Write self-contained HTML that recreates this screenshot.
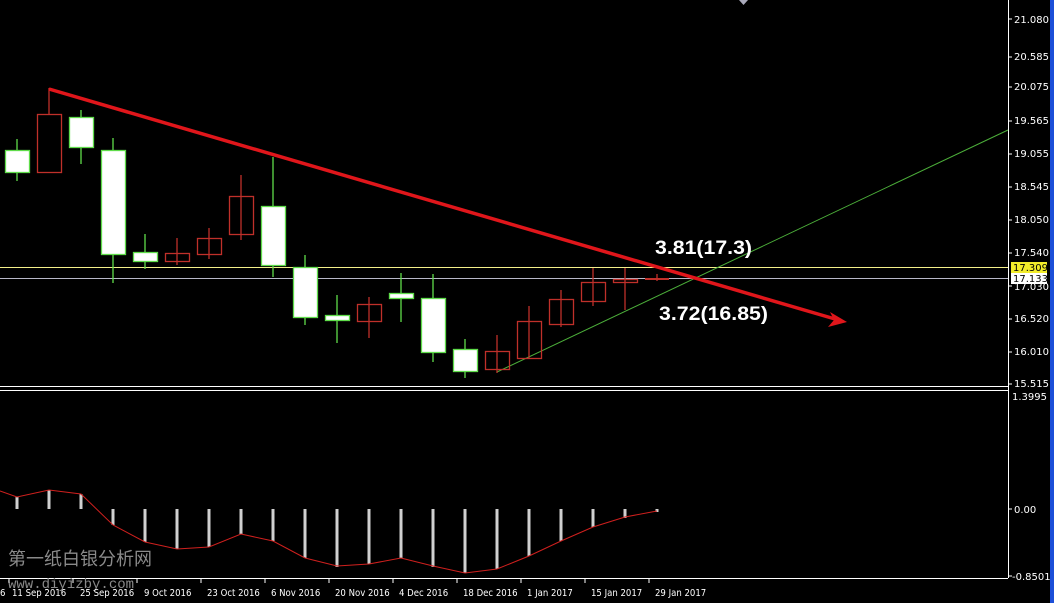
<!DOCTYPE html>
<html><head><meta charset="utf-8"><style>
html,body{margin:0;padding:0;background:#000;width:1054px;height:603px;overflow:hidden}
svg{display:block}
</style></head><body>
<svg width="1054" height="603" viewBox="0 0 1054 603" xmlns="http://www.w3.org/2000/svg" font-family="Liberation Sans, sans-serif">
<rect width="1054" height="603" fill="#000"/>
<rect x="1050" y="0" width="4" height="603" fill="#1c4fd8"/>
<polygon points="739,0 748,0 743.5,5" fill="#aab"/>
<line x1="0" y1="386.5" x2="1008" y2="386.5" stroke="#fff"/>
<line x1="0" y1="390.5" x2="1008" y2="390.5" stroke="#fff"/>
<line x1="1008.5" y1="0" x2="1008.5" y2="578" stroke="#fff"/>
<line x1="0" y1="578.5" x2="1008" y2="578.5" stroke="#fff"/>
<line x1="0" y1="267.5" x2="1008" y2="267.5" stroke="#f4f08a"/>
<line x1="0" y1="278.5" x2="1008" y2="278.5" stroke="#b8b8c8"/>
<line x1="497" y1="372" x2="1008" y2="130" stroke="#4caf3a" stroke-width="1"/>
<g stroke-width="1.3">
<g stroke="#5fdc4a" fill="#fff">
<line x1="17" y1="139" x2="17" y2="181"/><rect x="5.5" y="150.5" width="24" height="22"/>
<line x1="81" y1="110" x2="81" y2="164"/><rect x="69.5" y="117.5" width="24" height="30"/>
<line x1="113" y1="138" x2="113" y2="283"/><rect x="101.5" y="150.5" width="24" height="104"/>
<line x1="145" y1="234" x2="145" y2="269"/><rect x="133.5" y="252.5" width="24" height="9"/>
<line x1="273" y1="157" x2="273" y2="277"/><rect x="261.5" y="206.5" width="24" height="59"/>
<line x1="305" y1="255" x2="305" y2="325"/><rect x="293.5" y="267.5" width="24" height="50"/>
<line x1="337" y1="295" x2="337" y2="343"/><rect x="325.5" y="315.5" width="24" height="5"/>
<line x1="401" y1="273" x2="401" y2="322"/><rect x="389.5" y="293.5" width="24" height="5"/>
<line x1="433" y1="274" x2="433" y2="362"/><rect x="421.5" y="298.5" width="24" height="54"/>
<line x1="465" y1="339" x2="465" y2="378"/><rect x="453.5" y="349.5" width="24" height="22"/>
</g>
<g stroke="#c0302a" fill="none">
<line x1="49" y1="88" x2="49" y2="114"/><rect x="37.5" y="114.5" width="24" height="58"/>
<line x1="177" y1="238" x2="177" y2="265"/><rect x="165.5" y="253.5" width="24" height="8"/>
<line x1="209" y1="228" x2="209" y2="259"/><rect x="197.5" y="238.5" width="24" height="16"/>
<line x1="241" y1="175" x2="241" y2="240"/><rect x="229.5" y="196.5" width="24" height="38"/>
<line x1="369" y1="297" x2="369" y2="338"/><rect x="357.5" y="304.5" width="24" height="17"/>
<line x1="497" y1="335" x2="497" y2="373"/><rect x="485.5" y="351.5" width="24" height="18"/>
<line x1="529" y1="306" x2="529" y2="358"/><rect x="517.5" y="321.5" width="24" height="37"/>
<line x1="561" y1="290" x2="561" y2="327"/><rect x="549.5" y="299.5" width="24" height="25"/>
<line x1="593" y1="268" x2="593" y2="306"/><rect x="581.5" y="282.5" width="24" height="19"/>
<line x1="625" y1="268" x2="625" y2="310"/><rect x="613.5" y="279.5" width="24" height="3"/>
<line x1="657" y1="274" x2="657" y2="281"/><line x1="645" y1="279" x2="669" y2="279" stroke-width="2"/>
</g>
</g>
<line x1="49" y1="89" x2="835" y2="319" stroke="#e0161b" stroke-width="3.5"/>
<polygon points="847,322 830,312 834,320 828,327" fill="#e0161b"/>
<text x="655" y="254" fill="#fff" font-size="19" font-weight="bold" textLength="97" lengthAdjust="spacingAndGlyphs">3.81(17.3)</text>
<text x="659" y="320" fill="#fff" font-size="19" font-weight="bold" textLength="109" lengthAdjust="spacingAndGlyphs">3.72(16.85)</text>
<g fill="#fff" font-size="10" font-family="DejaVu Sans, sans-serif">
<g stroke="#fff">
<line x1="1008" y1="19" x2="1012" y2="19"/><line x1="1008" y1="57" x2="1012" y2="57"/><line x1="1008" y1="87" x2="1012" y2="87"/><line x1="1008" y1="121" x2="1012" y2="121"/><line x1="1008" y1="154" x2="1012" y2="154"/><line x1="1008" y1="187" x2="1012" y2="187"/><line x1="1008" y1="220" x2="1012" y2="220"/><line x1="1008" y1="253" x2="1012" y2="253"/><line x1="1008" y1="286" x2="1012" y2="286"/><line x1="1008" y1="319" x2="1012" y2="319"/><line x1="1008" y1="352" x2="1012" y2="352"/><line x1="1008" y1="384" x2="1012" y2="384"/><line x1="1008" y1="509" x2="1012" y2="509"/><line x1="1008" y1="576" x2="1012" y2="576"/>
</g>
<text x="1014" y="23">21.080</text><text x="1014" y="60">20.585</text><text x="1014" y="90">20.075</text><text x="1014" y="124">19.565</text><text x="1014" y="157">19.055</text><text x="1014" y="190">18.545</text><text x="1014" y="223">18.050</text><text x="1014" y="256">17.540</text><text x="1014" y="322">16.520</text><text x="1014" y="355">16.010</text><text x="1014" y="387">15.515</text>
<text x="1014" y="290">17.030</text>
<rect x="1011" y="262" width="36" height="11" fill="#f2ec2a"/><text x="1013" y="271" fill="#000">17.309</text>
<rect x="1011" y="273" width="36" height="11" fill="#fff"/><text x="1013" y="282" fill="#000">17.133</text>
<text x="1012" y="400">1.3995</text><text x="1014" y="513">0.00</text><text x="1012" y="580">-0.8501</text>
</g>
<g stroke="#d0d0d0" stroke-width="3">
<line x1="17" y1="497" x2="17" y2="509"/><line x1="49" y1="490" x2="49" y2="509"/><line x1="81" y1="494" x2="81" y2="509"/>
<line x1="113" y1="509" x2="113" y2="525"/><line x1="145" y1="509" x2="145" y2="542"/><line x1="177" y1="509" x2="177" y2="549"/><line x1="209" y1="509" x2="209" y2="547"/><line x1="241" y1="509" x2="241" y2="534"/><line x1="273" y1="509" x2="273" y2="541"/><line x1="305" y1="509" x2="305" y2="558"/><line x1="337" y1="509" x2="337" y2="567"/><line x1="369" y1="509" x2="369" y2="564"/><line x1="401" y1="509" x2="401" y2="558"/><line x1="433" y1="509" x2="433" y2="567"/><line x1="465" y1="509" x2="465" y2="573"/><line x1="497" y1="509" x2="497" y2="569"/><line x1="529" y1="509" x2="529" y2="556"/><line x1="561" y1="509" x2="561" y2="541"/><line x1="593" y1="509" x2="593" y2="527"/><line x1="625" y1="509" x2="625" y2="518"/><line x1="657" y1="509" x2="657" y2="512"/>
</g>
<polyline fill="none" stroke="#d0201e" stroke-width="1" points="0,491 17,497 49,490 81,494 113,525 145,542 177,549 209,547 241,534 273,541 305,558 337,566 369,564 401,558 433,566 465,573 497,569 529,556 561,541 593,527 625,517 657,511"/>
<text x="8" y="565" fill="#8a8a8a" font-size="18" font-family="Liberation Sans, Noto Sans CJK SC, sans-serif">第一纸白银分析网</text>
<text x="8" y="588" fill="#8a8a8a" font-size="14" font-family="Liberation Mono, monospace">www.diyizby.com</text>
<g fill="#fff" font-size="9.5" font-family="DejaVu Sans Condensed, DejaVu Sans, sans-serif">
<text x="0" y="596">6</text><text x="12" y="596">11 Sep 2016</text><text x="80" y="596">25 Sep 2016</text><text x="144" y="596">9 Oct 2016</text><text x="207" y="596">23 Oct 2016</text><text x="271" y="596">6 Nov 2016</text><text x="335" y="596">20 Nov 2016</text><text x="399" y="596">4 Dec 2016</text><text x="463" y="596">18 Dec 2016</text><text x="527" y="596">1 Jan 2017</text><text x="591" y="596">15 Jan 2017</text><text x="655" y="596">29 Jan 2017</text>
</g>
<g stroke="#fff"><line x1="9" y1="578" x2="9" y2="583"/><line x1="73" y1="578" x2="73" y2="583"/><line x1="137" y1="578" x2="137" y2="583"/><line x1="201" y1="578" x2="201" y2="583"/><line x1="265" y1="578" x2="265" y2="583"/><line x1="329" y1="578" x2="329" y2="583"/><line x1="393" y1="578" x2="393" y2="583"/><line x1="457" y1="578" x2="457" y2="583"/><line x1="521" y1="578" x2="521" y2="583"/><line x1="585" y1="578" x2="585" y2="583"/><line x1="649" y1="578" x2="649" y2="583"/></g>
</svg>
</body></html>
